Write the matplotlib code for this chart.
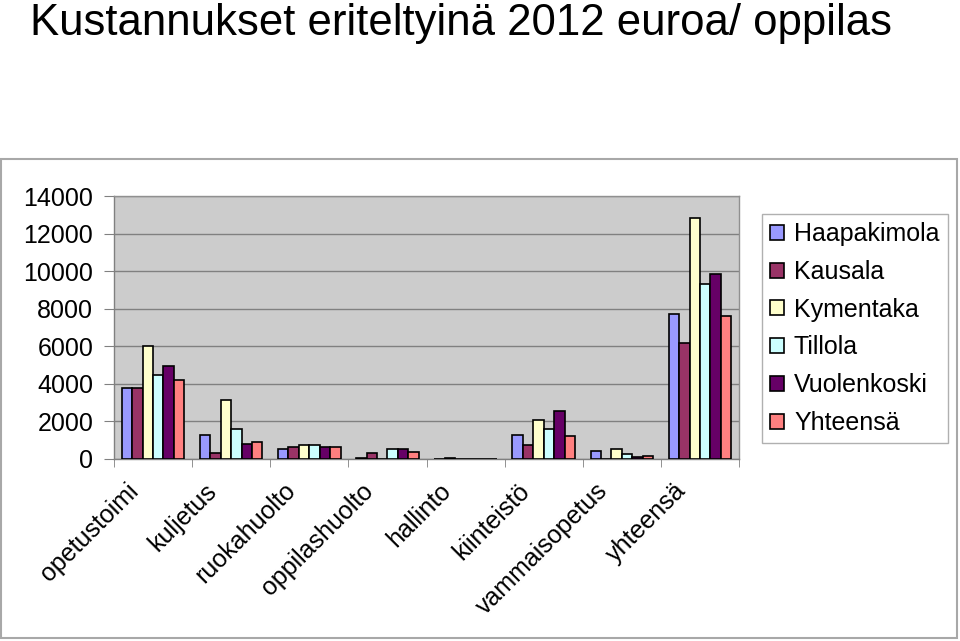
import matplotlib
matplotlib.use("Agg")
import matplotlib.pyplot as plt
import matplotlib.transforms as mtransforms
from matplotlib.patches import Rectangle
import numpy as np

plt.rcParams['font.family'] = ['Liberation Sans', 'DejaVu Sans']

categories = ['opetustoimi', 'kuljetus', 'ruokahuolto', 'oppilashuolto',
              'hallinto', 'kiinteistö', 'vammaisopetus', 'yhteensä']
series_names = ['Haapakimola', 'Kausala', 'Kymentaka', 'Tillola',
                'Vuolenkoski', 'Yhteensä']
haapakimola = [3800, 1300, 530, 70, 0, 1300, 440, 7740]
kausala = [3800, 320, 640, 340, 60, 750, 0, 6190]
kymentaka = [6000, 3130, 730, 0, 0, 2080, 530, 12810]
tillola = [4450, 1600, 730, 530, 0, 1600, 250, 9340]
vuolenkoski = [4950, 820, 640, 530, 0, 2580, 90, 9840]
yhteensa = [4180, 930, 640, 360, 0, 1210, 160, 7630]
series_values = [haapakimola, kausala, kymentaka, tillola, vuolenkoski, yhteensa]
colors = ['#9999FF', '#993366', '#FFFFCC', '#CCFFFF', '#660066', '#FF8080']
yticks = [0, 2000, 4000, 6000, 8000, 10000, 12000, 14000]

W, H = 960, 641
fig = plt.figure(figsize=(W / 100, H / 100), dpi=100)

# outer chart border
fig.patches.append(Rectangle((1 / W, 1 - 638 / H), 956 / W, (638 - 159) / H,
                             transform=fig.transFigure, fill=False,
                             edgecolor='#A8A8A8', linewidth=1.5))

fig.text(30 / W, 1 - 35 / H, 'Kustannukset eriteltyinä 2012 euroa/ oppilas',
         fontsize=31.5, ha='left', va='baseline')

ax = fig.add_axes([114 / W, 1 - 459 / H, 625 / W, 263 / H])
ax.set_facecolor('#CCCCCC')

x = np.arange(len(categories))
n = len(series_names)
bw = 0.8 / n
handles = []
for i, (name, vals, c) in enumerate(zip(series_names, series_values, colors)):
    b = ax.bar(x - 0.4 + bw * (i + 0.5), vals, width=bw, color=c,
               edgecolor='black', linewidth=1.2, label=name, zorder=3)
    handles.append(b)

ax.set_xlim(-0.5, len(categories) - 0.5)
ax.set_ylim(0, 14000)
ax.set_yticks(yticks)
ax.set_yticklabels([str(v) for v in yticks])
ax.yaxis.grid(True, color='#808080', linewidth=1.0, zorder=0)
ax.set_axisbelow(True)

for s in ['top', 'right']:
    ax.spines[s].set_color('#909090')
    ax.spines[s].set_linewidth(1.0)
for s in ['left', 'bottom']:
    ax.spines[s].set_color('#808080')
    ax.spines[s].set_linewidth(1.0)

ax.tick_params(axis='y', length=7, color='#808080', labelsize=18, pad=8)
ax.set_xticks(x)
ax.set_xticks(np.arange(-0.5, len(categories)), minor=True)
ax.tick_params(axis='x', which='minor', length=6, color='#808080')
ax.tick_params(axis='x', which='major', length=0, pad=0, labelsize=18)
ax.set_xticklabels(categories, rotation=45, ha='right', va='center',
                   rotation_mode='anchor')
offset = mtransforms.ScaledTranslation(-18 / 100, -28 / 100, fig.dpi_scale_trans)
for lbl in ax.get_xticklabels():
    lbl.set_transform(lbl.get_transform() + offset)

leg = fig.legend(handles=handles, labels=series_names, loc='upper left',
                 bbox_to_anchor=(762 / W, 1 - 214 / H), borderaxespad=0,
                 fontsize=18, frameon=True, fancybox=False,
                 edgecolor='#B0B0B0', facecolor='white', framealpha=1,
                 handlelength=0.55, handleheight=0.55, handletextpad=0.4,
                 labelspacing=0.55, borderpad=0.33)
leg.get_frame().set_linewidth(1.0)

fig.savefig('out.png', dpi=100)
